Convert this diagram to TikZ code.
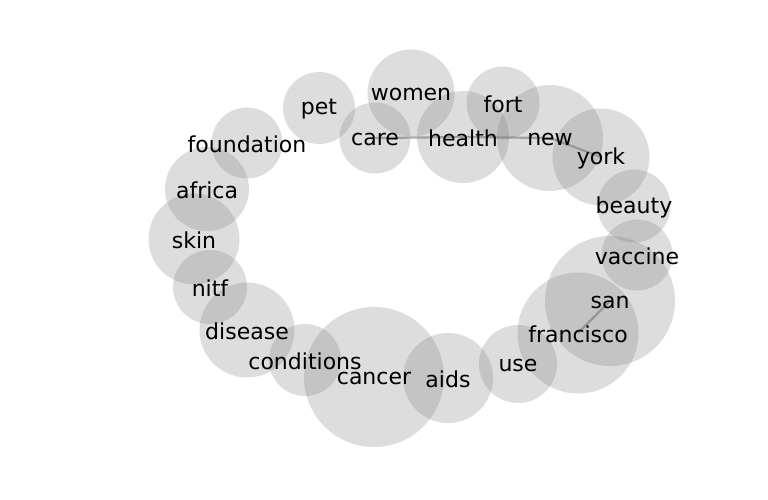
\documentclass[tikz,border=0pt]{standalone}
\usepackage{fontspec}
\setmainfont{DejaVu Sans}
\begin{document}
\begin{tikzpicture}[x=1pt,y=-1pt,
  bub/.style={circle,draw=none,fill={rgb,255:red,128;green,128;blue,128},fill opacity=0.27,inner sep=0pt,minimum size=#1},
  word/.style={inner sep=0pt,yshift=-1.5pt,font=\fontsize{22}{26}\selectfont,text=black},
  edge/.style={draw={rgb,255:red,128;green,128;blue,128},draw opacity=0.65,line width=2.2pt}]
\useasboundingbox (0,0) rectangle (768,500);
% circles (diameter = 2r)
\node[bub=72]  (pet)        at (319,108) {};
\node[bub=87]  (women)      at (411,93)  {};
\node[bub=73]  (fort)       at (503,103) {};
\node[bub=71]  (care)       at (375,138) {};
\node[bub=92]  (health)     at (463,137) {};
\node[bub=106] (new)        at (550,138) {};
\node[bub=97]  (york)       at (601,157) {};
\node[bub=73]  (beauty)     at (634,206) {};
\node[bub=71]  (vaccine)    at (637,255) {};
\node[bub=130] (san)        at (610,301) {};
\node[bub=121] (francisco)  at (578,333) {};
\node[bub=78]  (use)        at (518,364) {};
\node[bub=90]  (aids)       at (448,378) {};
\node[bub=140] (cancer)     at (374,377) {};
\node[bub=72]  (conditions) at (305,360) {};
\node[bub=95]  (disease)    at (247,330) {};
\node[bub=74]  (nitf)       at (210,287) {};
\node[bub=91]  (skin)       at (194,239) {};
\node[bub=84]  (africa)     at (207,189) {};
\node[bub=71]  (foundation) at (247,143) {};
% edges
\draw[edge] (care.center) -- (health.center);
\draw[edge] (health.center) -- (new.center);
\draw[edge] (new.center) -- (york.center);
\draw[edge] (san.center) -- (francisco.center);
% labels
\node[word] at (pet) {pet};
\node[word] at (women) {women};
\node[word] at (fort) {fort};
\node[word] at (care) {care};
\node[word] at (health) {health};
\node[word] at (new) {new};
\node[word] at (york) {york};
\node[word] at (beauty) {beauty};
\node[word] at (vaccine) {vaccine};
\node[word] at (san) {san};
\node[word] at (francisco) {francisco};
\node[word] at (use) {use};
\node[word] at (aids) {aids};
\node[word] at (cancer) {cancer};
\node[word] at (conditions) {conditions};
\node[word] at (disease) {disease};
\node[word] at (nitf) {nitf};
\node[word] at (skin) {skin};
\node[word] at (africa) {africa};
\node[word] at (foundation) {foundation};
\end{tikzpicture}
\end{document}
